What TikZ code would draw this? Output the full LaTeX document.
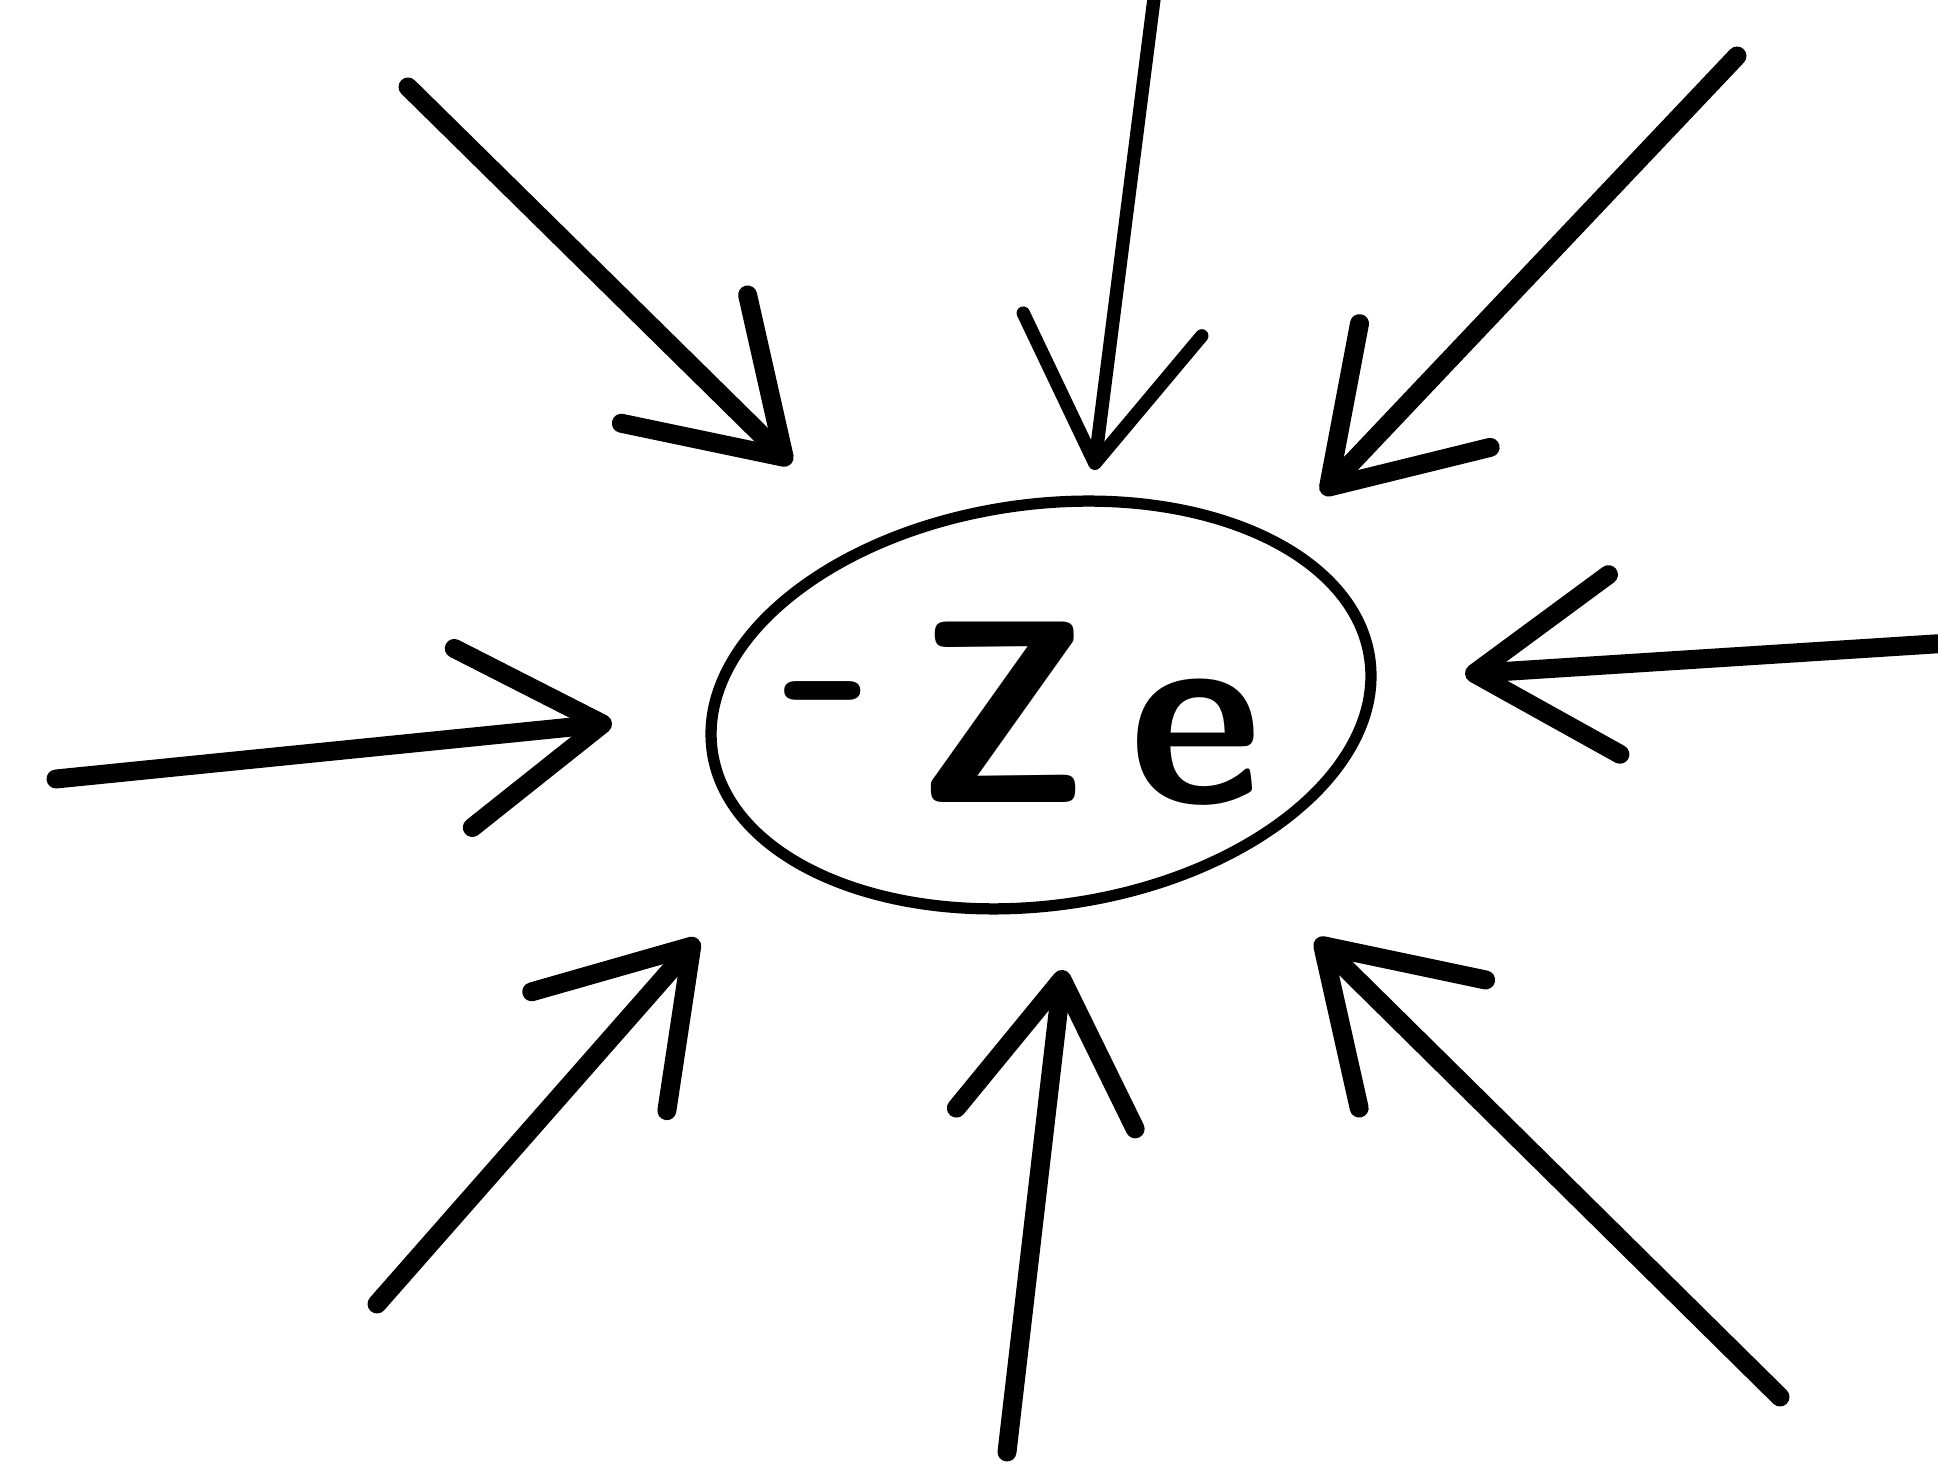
\documentclass[tikz,border=0pt]{standalone}
\usetikzlibrary{arrows.meta}
\tikzset{
  nucleus/.style={ellipse, draw, line width=3.2pt, minimum width=6.64cm, minimum height=4.01cm, inner sep=0pt},
  charge/.style={font=\sffamily\bfseries\fontsize{74}{78}\selectfont},
  ray/.style={line width=5.4pt, line cap=round, line join=round,
    -{Straight Barb[length=1.4cm, width=1.8cm, line cap=round, line join=round]}}
}
\usetikzlibrary{shapes.geometric}

\begin{document}
\begin{tikzpicture}
  \useasboundingbox (0,0) rectangle (19.38,14.78);
  \node[nucleus, rotate=8] (ze) at (10.41,7.73) {};
  \node[charge] (lbl) at (10.22,7.64) {\raisebox{0.2em}{-}\kern11pt Z\kern11pt e};

  \coordinate (nw0) at (4.08,13.91);  \coordinate (nw1) at (7.91,10.14);
  \coordinate (n0)  at (11.56,14.95); \coordinate (n1)  at (10.94,10.08);
  \coordinate (ne0) at (17.37,14.22); \coordinate (ne1) at (13.22,9.84);
  \coordinate (w0)  at (0.56,6.99);   \coordinate (w1)  at (6.12,7.55);
  \coordinate (e0)  at (19.50,8.35);  \coordinate (e1)  at (14.65,8.04);
  \coordinate (sw0) at (3.77,1.74);   \coordinate (sw1) at (6.98,5.39);
  \coordinate (s0)  at (10.07,0.26);  \coordinate (s1)  at (10.63,5.08);
  \coordinate (se0) at (17.80,0.81);  \coordinate (se1) at (13.16,5.39);

  \draw[ray] (nw0) -- (nw1);
  \draw[ray, line width=3.8pt] (n0) -- (n1);
  \draw[ray] (ne0) -- (ne1);
  \draw[ray] (w0) -- (w1);
  \draw[ray] (e0) -- (e1);
  \draw[ray] (sw0) -- (sw1);
  \draw[ray] (s0) -- (s1);
  \draw[ray] (se0) -- (se1);
\end{tikzpicture}
\end{document}
